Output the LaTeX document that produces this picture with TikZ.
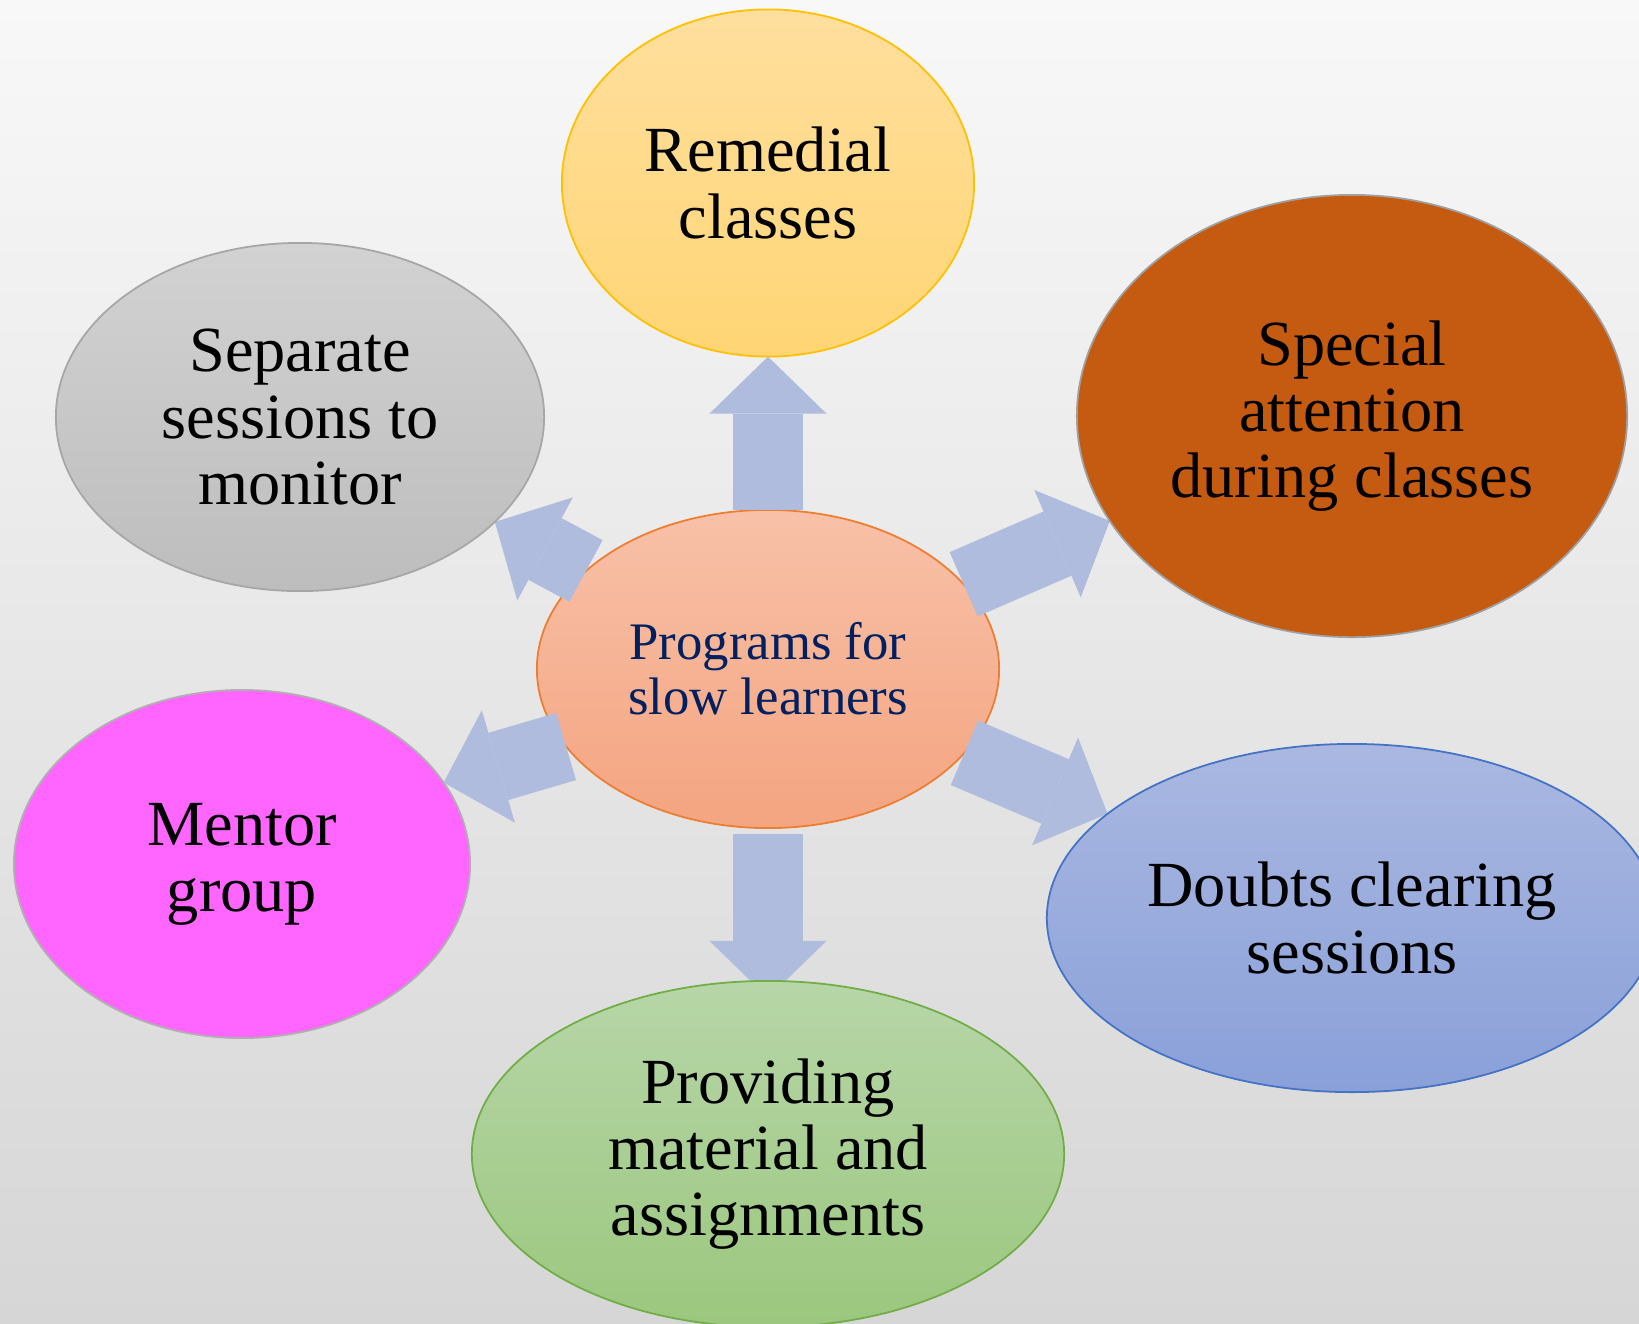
\documentclass[tikz,border=0pt]{standalone}
\usepackage{fontspec}
\setmainfont{Liberation Serif}
\usetikzlibrary{shapes.geometric}
\usetikzlibrary{arrows.meta}
\pgfdeclarelayer{back}
\pgfdeclarelayer{mid}
\pgfsetlayers{back,mid,main}
\definecolor{bgtop}{HTML}{F8F8F8}
\definecolor{bgbot}{HTML}{D6D6D6}
\definecolor{arrowblue}{HTML}{AFBCDE}
\definecolor{progtext}{HTML}{002060}
\definecolor{progline}{HTML}{ED7D31}
\definecolor{progtop}{HTML}{F8C1A8}
\definecolor{progbot}{HTML}{F4A480}
\definecolor{remline}{HTML}{FFC000}
\definecolor{remtop}{HTML}{FFDF9E}
\definecolor{rembot}{HTML}{FFD574}
\definecolor{specline}{HTML}{A0A0A0}
\definecolor{specfill}{HTML}{C55A11}
\definecolor{sepline}{HTML}{A6A6A6}
\definecolor{septop}{HTML}{D2D2D2}
\definecolor{sepbot}{HTML}{BDBDBD}
\definecolor{mentline}{HTML}{B0B0B0}
\definecolor{mentfill}{HTML}{FF66FF}
\definecolor{doubtline}{HTML}{4472C4}
\definecolor{doubttop}{HTML}{AAB8E1}
\definecolor{doubtbot}{HTML}{8AA0D9}
\definecolor{matline}{HTML}{70AD47}
\definecolor{mattop}{HTML}{B7D6A8}
\definecolor{matbot}{HTML}{9BC77E}

\begin{document}
\begin{tikzpicture}[x=0.01cm,y=-0.01cm,
            bubble/.style={ellipse,inner sep=0pt,outer sep=0pt,align=center,line width=0.5pt,font=\fontsize{18.3}{18.8}\selectfont},
            link/.style={draw=arrowblue,line width=0.70cm,-{Triangle[width=1.17cm,length=0.57cm,line width=0pt]}}]
            \useasboundingbox (0,0) rectangle (1639,1323);
            \begin{pgfonlayer}{back}
            \shade[top color=bgtop,bottom color=bgbot] (0,0) rectangle (1639,1323);
            \node[bubble,minimum width=4.62cm,minimum height=3.18cm,draw=progline,top color=progtop,bottom color=progbot,text=progtext,font=\fontsize{15}{15.6}\selectfont] (prog) at (768,669) {Programs for\\slow learners};
            \end{pgfonlayer}
            \node[bubble,minimum width=4.12cm,minimum height=3.47cm,draw=remline,top color=remtop,bottom color=rembot] (remedial) at (768,183) {Remedial\\classes};
            \node[bubble,minimum width=5.50cm,minimum height=4.42cm,draw=specline,fill=specfill] (special) at (1352,416) {Special\\attention\\during classes};
            \node[bubble,minimum width=4.88cm,minimum height=3.48cm,draw=sepline,top color=septop,bottom color=sepbot] (separate) at (300,417) {Separate\\sessions to\\monitor};
            \node[bubble,minimum width=4.56cm,minimum height=3.48cm,draw=mentline,fill=mentfill] (mentor) at (242,864) {Mentor\\group};
            \node[bubble,minimum width=6.10cm,minimum height=3.48cm,draw=doubtline,top color=doubttop,bottom color=doubtbot] (doubts) at (1352,918) {Doubts clearing\\sessions};
            \node[bubble,minimum width=5.92cm,minimum height=3.46cm,draw=matline,top color=mattop,bottom color=matbot] (material) at (768,1154) {Providing\\material and\\assignments};
            \begin{pgfonlayer}{mid}
            \draw[link] (prog) -- (remedial);
            \draw[link] (prog) -- (special);
            \draw[link] (prog) -- (separate);
            \draw[link] (prog.201) -- (mentor.22);
            \draw[link] (prog) -- (doubts);
            \draw[link,shorten <=0.06cm,shorten >=-0.17cm] (prog) -- (material);
            \end{pgfonlayer}
        \end{tikzpicture}
\end{document}
